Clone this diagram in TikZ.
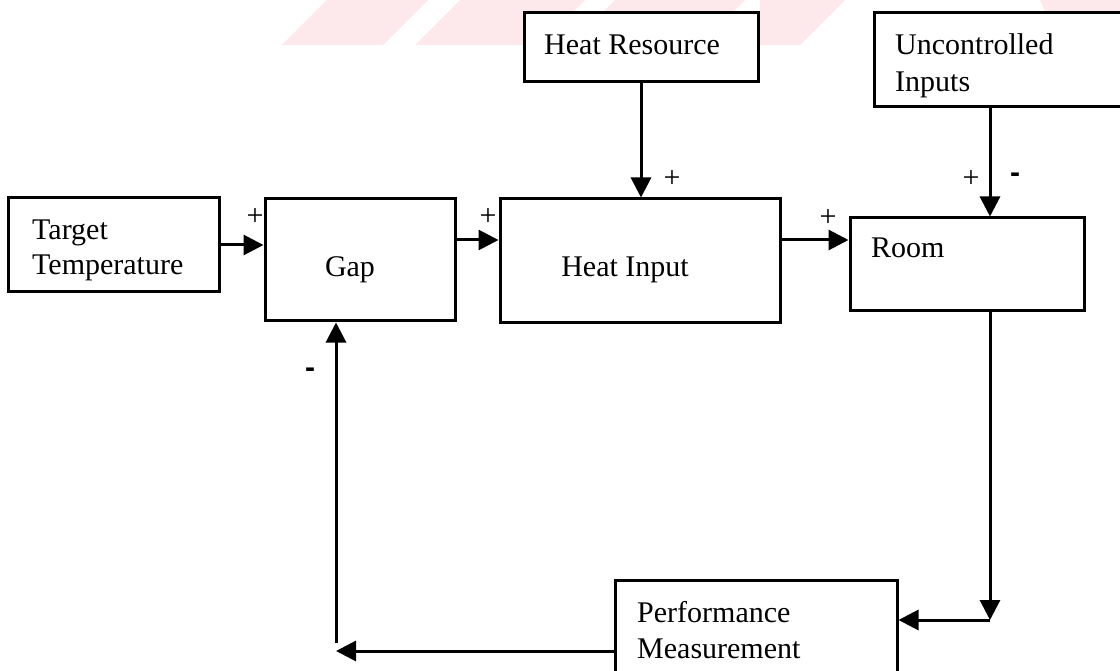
\documentclass[tikz,border=0pt]{standalone}
\usepackage{fontspec}
\setmainfont{Liberation Serif}
\newfontfamily\signfont{Liberation Sans}
\usetikzlibrary{arrows.meta}
\definecolor{wmpink}{RGB}{253,232,236}
\begin{document}
\begin{tikzpicture}[x=1pt,y=-1pt,
  box/.style={draw, line width=3pt, fill=white, inner sep=0pt},
  txt/.style={inner sep=0pt, font=\fontsize{30}{36}\selectfont, anchor=base west},
  ctxt/.style={inner sep=0pt, font=\fontsize{30}{36}\selectfont, anchor=base},
  plus/.style={inner sep=0pt, font=\fontsize{30}{36}\selectfont},
  minus/.style={inner sep=0pt, font=\signfont\bfseries\fontsize{30}{36}\selectfont},
  arr/.style={line width=3pt, -{Triangle[length=20pt,width=20pt]}},
  wm/.style={fill=wmpink, draw=none}]
\clip (0,0) rectangle (1120,671);
% faint watermark stripes
\fill[wm] (282,45) -- (383,45) -- (428,0) -- (327,0) -- cycle;
\fill[wm] (415,45) -- (540,45) -- (585,0) -- (460,0) -- cycle;
\fill[wm] (570,45) -- (700,45) -- (745,0) -- (615,0) -- cycle;
\fill[wm] (760,45) -- (800,45) -- (845,0) -- (760,0) -- cycle;
\fill[wm] (1060,45) -- (1120,45) -- (1120,0) -- (1040,0) -- cycle;
% boxes
\node[box, minimum width=211pt, minimum height=94pt] (tt) at (113.5,245) {};
\node[box, minimum width=190pt, minimum height=122pt] (gap) at (360,260) {};
\node[box, minimum width=280pt, minimum height=124pt] (hi) at (640,261) {};
\node[box, minimum width=234pt, minimum height=93pt] (room) at (967,264.5) {};
\node[box, minimum width=234pt, minimum height=69pt] (hr) at (641,47.5) {};
\node[box, minimum width=251pt, minimum height=94pt] (ui) at (999.5,60) {};
\node[box, minimum width=282pt, minimum height=120pt] (perf) at (756,640) {};
% texts
\node[txt] (t1) at (32,240) {Target};
\node[txt] (t2) at (32,275) {Temperature};
\node[ctxt] (t3) at (350,277) {Gap};
\node[ctxt] (t4) at (625,277) {Heat Input};
\node[txt] (t5) at (871,258) {Room};
\node[txt] (t6) at (544,55) {Heat Resource};
\node[txt] (t7) at (895,55) {Uncontrolled};
\node[txt] (t8) at (895,92) {Inputs};
\node[txt] (t9) at (637,622) {Performance};
\node[txt] (t10) at (637,658) {Measurement};
% helper coordinates
\coordinate (ya) at (0,240);
\coordinate (yb) at (0,240);
\coordinate (ux) at (990,0);
\coordinate (c1) at (990,620);
\coordinate (c2) at (336,651);
\coordinate (c3) at (336,643);
% connectors
\draw[arr] (tt.east) -- (tt.east -| gap.west);
\draw[arr] (gap.east |- ya) -- (hi.west |- ya);
\draw[arr] (hi.east |- yb) -- (room.west |- yb);
\draw[arr] (hr.south) -- (hr.south |- hi.north);
\draw[arr] (ui.south -| ux) -- (room.north -| ux);
\draw[arr] (room.south -| ux) -- (c1);
\draw[arr] (c1) -- (perf.east |- c1);
\draw[arr] (perf.west |- c2) -- (c2);
\draw[arr] (c3) -- (gap.south -| c3);
% signs
\node[plus] (p1) at (255,217) {+};
\node[plus] (p2) at (488,217) {+};
\node[plus] (p3) at (828,218) {+};
\node[plus] (p4) at (672,179) {+};
\node[plus] (p5) at (971,179) {+};
\node[minus] (m1) at (1015,178) {-};
\node[minus] (m2) at (310,373) {-};
\end{tikzpicture}
\end{document}
